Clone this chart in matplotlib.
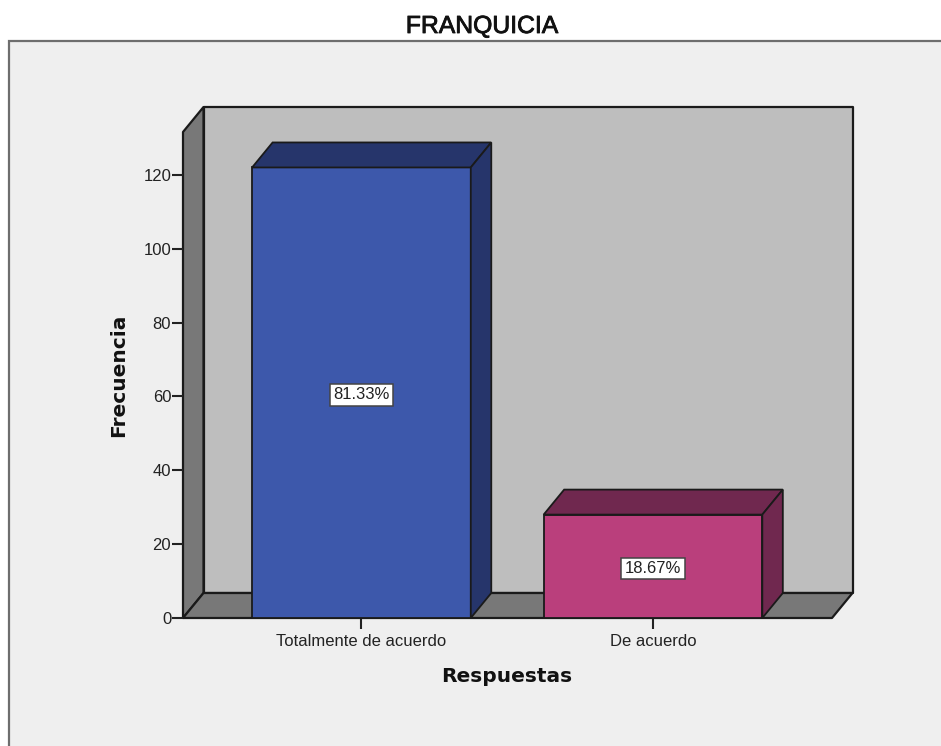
import matplotlib
matplotlib.use("Agg")
import matplotlib.pyplot as plt
import matplotlib.patheffects as pe
from matplotlib.patches import Polygon, Rectangle

plt.rcParams['font.family'] = ['Liberation Sans', 'DejaVu Sans']

categories = ["Totalmente de acuerdo", "De acuerdo"]
frequencies = [122, 28]
percent_labels = ["81.33%", "18.67%"]
yticks = [0, 20, 40, 60, 80, 100, 120]
front_colors = ["#3D58AB", "#BA3F7C"]
side_colors = ["#26356B", "#70284F"]
W, H = 941, 746
fig = plt.figure(figsize=(W/100, H/100), dpi=100, facecolor="white")

# Panel background in figure coordinates (runs off the right and bottom edges)
fig.add_artist(Rectangle((9/W, -0.05), 1, 1.05-41/H, transform=fig.transFigure,
                         fc="#EFEFEF", ec="#6E6E6E", lw=1.6, zorder=-1))

L, R, B, T = 183, 832, 618, 132
ax = fig.add_axes([L/W, 1-B/H, (R-L)/W, (B-T)/H])
ax.set_xlim(-0.612, 1.614)
ax.set_ylim(0, 131.6)
ax.patch.set_visible(False)
for s in ax.spines.values():
    s.set_visible(False)

x0, x1 = ax.get_xlim()
y0, y1 = ax.get_ylim()
dx = 20.5/291.5
dy = 25/3.694
edge = "#1A1A1A"
wall = dict(clip_on=False, ec=edge, lw=1.6, joinstyle="round", zorder=1)
ax.add_patch(Polygon([(x0+dx, y0+dy), (x1+dx, y0+dy), (x1+dx, y1+dy), (x0+dx, y1+dy)],
                     fc="#BEBEBE", **wall))
ax.add_patch(Polygon([(x0, y0), (x0+dx, y0+dy), (x0+dx, y1+dy), (x0, y1)],
                     fc="#787878", **wall))
ax.add_patch(Polygon([(x0, y0), (x1, y0), (x1+dx, y0+dy), (x0+dx, y0+dy)],
                     fc="#787878", **wall))

width = 0.75
pos = range(len(categories))
ax.bar(pos, frequencies, width=width, color=front_colors, edgecolor=edge, linewidth=1.3,
       zorder=3, clip_on=False)
for i, v in enumerate(frequencies):
    a, b = i-width/2, i+width/2
    ax.add_patch(Polygon([(a, v), (b, v), (b+dx, v+dy), (a+dx, v+dy)],
                         fc=side_colors[i], ec=edge, lw=1.3, zorder=3, clip_on=False))
    ax.add_patch(Polygon([(b, 0), (b+dx, dy), (b+dx, v+dy), (b, v)],
                         fc=side_colors[i], ec=edge, lw=1.3, zorder=3, clip_on=False))
    ax.annotate(percent_labels[i], (i, v/2), xytext=(0, -1.5), textcoords="offset points",
                ha="center", va="center", fontsize=12, color="#222222", zorder=5,
                bbox=dict(boxstyle="square,pad=0.2", fc="white", ec="#444444", lw=1.1))

ax.set_xticks(list(pos), categories)
ax.set_yticks(yticks)
ax.tick_params(axis="both", length=8, width=1.5, color="#222222", labelsize=12,
               labelcolor="#222222", pad=0.5)
ax.tick_params(axis="x", pad=3.5)

title = fig.text(482/W, 1-26/H, "FRANQUICIA", ha="center", va="center", fontsize=17.8, color="#111111")
title.set_path_effects([pe.withStroke(linewidth=0.6, foreground="#111111")])
fig.text(507/W, 1-677/H, "Respuestas", ha="center", va="center", fontsize=14.5,
         fontweight="bold", color="#111111", family=["DejaVu Sans"])
fig.text(119/W, 1-375/H, "Frecuencia", ha="center", va="center", rotation=90, fontsize=14.5,
         fontweight="bold", color="#111111", family=["DejaVu Sans"])

fig.savefig("out.png", dpi=100, facecolor="white")
